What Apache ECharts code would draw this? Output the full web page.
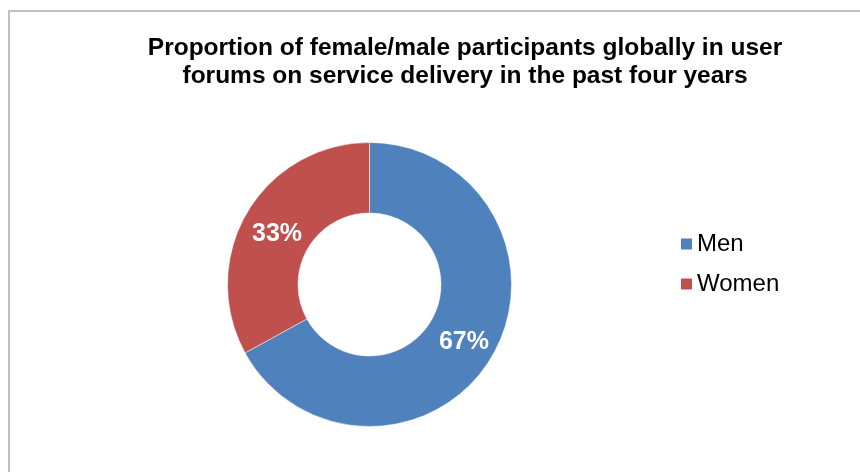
<!DOCTYPE html>
<html>
<head>
<meta charset="utf-8">
<script src="https://cdn.jsdelivr.net/npm/echarts@6/dist/echarts.min.js"></script>
<style>
  html, body { margin: 0; padding: 0; background: #fff; }
  #myChart { width: 860px; height: 472px; }
</style>
</head>
<body>
<div id="myChart"></div>
<script>
// 数据
var categories = ['Men', 'Women'];
var values = [67, 33];
var colors = ['#4F81BD', '#C0504D'];
// 标签微调
var labelOffsets = [[0, 2], [2, 5]];

var pieData = [];
for (var i = 0; i < categories.length; i++) {
  pieData.push({
    name: categories[i],
    value: values[i],
    itemStyle: { color: colors[i] },
    label: { offset: labelOffsets[i] }
  });
}

var option = {
  animation: false,
  backgroundColor: '#fff',
  title: {
    text: 'Proportion of female/male participants globally in user\nforums on service delivery in the past four years',
    left: 460,
    top: 29,
    textAlign: 'center',
    textStyle: {
      fontFamily: 'Liberation Sans, Arial, sans-serif',
      fontSize: 24.5,
      fontWeight: 'bold',
      color: '#000',
      lineHeight: 28
    }
  },
  legend: {
    orient: 'vertical',
    left: 674,
    top: 227,
    itemWidth: 13,
    itemHeight: 13,
    itemGap: 16,
    icon: 'rect',
    textStyle: {
      fontFamily: 'Liberation Sans, Arial, sans-serif',
      fontSize: 24,
      color: '#000',
      padding: [0, 0, 0, -1]
    },
    data: categories
  },
  graphic: [{
    type: 'rect',
    shape: { x: 9, y: 11, width: 900, height: 500 },
    style: { fill: 'none', stroke: '#C0C0C0', lineWidth: 2 },
    silent: true
  }],
  series: [{
    type: 'pie',
    center: [369.5, 284.5],
    radius: [71.5, 142],
    startAngle: 90,
    clockwise: true,
    avoidLabelOverlap: false,
    itemStyle: { borderColor: '#fff', borderWidth: 0.5 },
    label: {
      show: true,
      position: 'inside',
      formatter: '{d}%',
      color: '#fff',
      fontFamily: 'Liberation Sans, Arial, sans-serif',
      fontSize: 25,
      fontWeight: 'bold'
    },
    labelLine: { show: false },
    emphasis: { disabled: true },
    data: pieData
  }]
};

var myChart = echarts.init(document.getElementById('myChart'));
myChart.setOption(option);
</script>
</body>
</html>
